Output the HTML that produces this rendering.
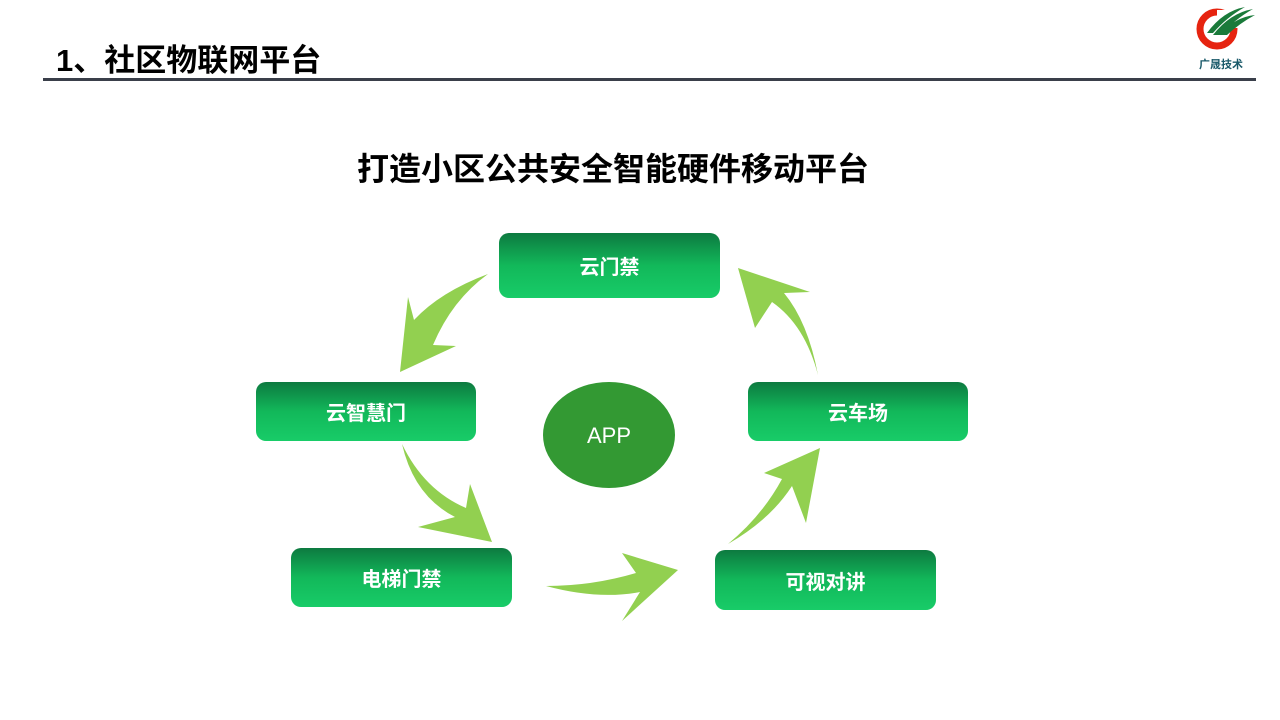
<!DOCTYPE html>
<html><head><meta charset="utf-8"><style>
body{margin:0;width:1280px;height:720px;background:#fff;position:relative;overflow:hidden;font-family:"Liberation Sans","Noto Sans CJK SC",sans-serif}
.h{position:absolute;left:56px;top:35px;font-size:31px;font-weight:bold;color:#000}
.line{position:absolute;left:43px;top:78px;width:1213px;height:3px;background:#3a3f4a}
.t{position:absolute;left:0;width:1226px;top:144px;text-align:center;font-size:32px;font-weight:bold;color:#000}
.b{position:absolute;border-radius:10px;background:linear-gradient(#0d7a40,#12b85a 50%,#18cc68);color:#fff;font-weight:bold;font-size:20px;display:flex;align-items:center;justify-content:center}
</style></head><body>
<div class="h">1、社区物联网平台</div>
<div class="line"></div>
<svg style="position:absolute;left:1195px;top:5px" width="62" height="50" viewBox="0 0 62 50">
<circle cx="22" cy="24" r="17" fill="none" stroke="#e62410" stroke-width="7"/>
<rect x="22" y="5" width="30" height="18" fill="#fff"/>
<path d="M18,30 Q35,8 58,4 Q40,14 26,30Z M24,30 Q40,12 60,10 Q45,18 32,30Z M12,28 Q28,6 50,2 Q32,12 18,28Z" fill="#1a7a3a"/>
</svg>
<div style="position:absolute;left:1199px;top:56px;font-size:11px;color:#1a5a6a;font-weight:bold">广晟技术</div>
<div class="t">打造小区公共安全智能硬件移动平台</div>
<svg style="position:absolute;left:0;top:0" width="1280" height="720">
<g fill="#92d050">
<path d="M488,274 Q440,292 414,320 L408,297 L400,372 L456,346 L433,345 Q452,300 488,274Z"/>
<path d="M818,375 Q805,325 772,302 L755,328 L738,268 L810,292 L784,293 Q808,322 818,375Z"/>
<path d="M402,444 Q414,496 455,517 L418,527 L492,542 L470,484 L466,508 Q424,490 402,444Z"/>
<path d="M546,586 Q598,600 640,592 L622,621 L678,570 L622,553 L636,573 Q592,586 546,586Z"/>
<path d="M728,544 Q770,520 792,486 L806,523 L820,448 L764,473 L782,479 Q762,516 728,544Z"/>
</g>
<ellipse cx="609" cy="435" rx="66" ry="53" fill="#339933"/>
<text x="609" y="443" text-anchor="middle" fill="#fff" font-size="22" font-family="Liberation Sans,sans-serif">APP</text>
</svg>
<div class="b" style="left:499px;top:233px;width:221px;height:65px">云门禁</div>
<div class="b" style="left:256px;top:382px;width:220px;height:59px">云智慧门</div>
<div class="b" style="left:748px;top:382px;width:220px;height:59px">云车场</div>
<div class="b" style="left:291px;top:548px;width:221px;height:59px">电梯门禁</div>
<div class="b" style="left:715px;top:550px;width:221px;height:60px">可视对讲</div>
</body></html>
